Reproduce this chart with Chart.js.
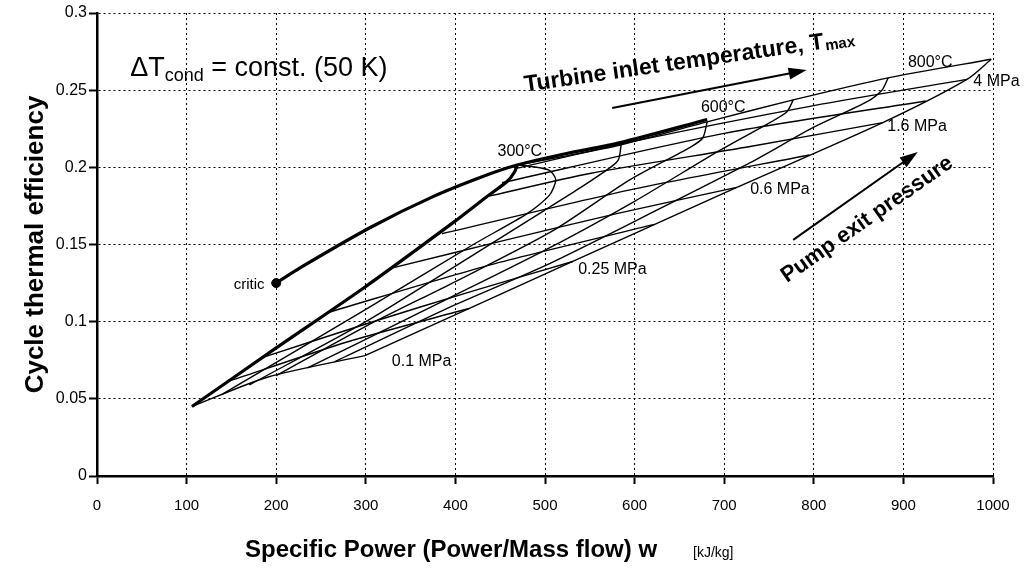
<!DOCTYPE html>
<html>
<head>
<meta charset="utf-8">
<script src="https://cdn.jsdelivr.net/npm/chart.js@4.4.0/dist/chart.umd.min.js"></script>
<style>
  html, body { margin: 0; padding: 0; background: #fff; }
</style>
</head>
<body>
<canvas id="chart" width="1025" height="569"></canvas>
<script>
// axis ticks
const xTicks = [0, 100, 200, 300, 400, 500, 600, 700, 800, 900, 1000];
const yTicks = [0, 0.05, 0.1, 0.15, 0.2, 0.25, 0.3];
const yTickLabels = ['0', '0.05', '0.1', '0.15', '0.2', '0.25', '0.3'];

// curves: [w kJ/kg, efficiency]
const critPoint = [200, 0.125];
const critLine = [[200,0.125],[227,0.135],[305,0.161],[375,0.181],[435,0.195],[469,0.2015],[520,0.2085],[584,0.216],[681,0.231]];
const topLine = [[469,0.2015],[520,0.207],[584,0.2145],[681,0.2295],[777,0.2437],[883,0.258],[998,0.270]];

// constant turbine inlet temperature lines
const t300 = [[106,0.045],[200,0.083],[298,0.122],[397,0.164],[435,0.181],[458,0.191],[466,0.197],[469,0.2015]];
const t400 = [[140,0.053],[300,0.108],[420,0.150],[480,0.170],[505,0.182],[512,0.192],[505,0.198],[485,0.2005],[469,0.2015]];
const t500 = [[170,0.059],[300,0.100],[400,0.136],[499,0.172],[540,0.187],[573,0.200],[582,0.205],[585,0.2145]];
const t600 = [[200,0.065],[300,0.097],[400,0.126],[509,0.159],[595,0.192],[662,0.213],[676,0.219],[681,0.2295]];
const t700 = [[235,0.070],[350,0.103],[499,0.146],[600,0.178],[695,0.211],[751,0.229],[770,0.236],[777,0.2437]];
const t800 = [[265,0.074],[400,0.111],[499,0.136],[600,0.165],[729,0.203],[800,0.226],[859,0.2424],[876,0.250],[883,0.258]];
const tMax = [[299,0.078],[531,0.139],[714,0.187],[877,0.229],[971,0.257],[998,0.270]];

// constant pump exit pressure lines
const p01 = [[106,0.045],[190,0.064],[299,0.078]];
const p016 = [[145,0.061],[280,0.087],[415,0.1085]];
const p025 = [[186,0.077],[300,0.0985],[420,0.120],[531,0.139]];
const p04 = [[258,0.106],[440,0.137],[622,0.163]];
const p06 = [[331,0.135],[450,0.152],[580,0.170],[714,0.187]];
const p10 = [[385,0.157],[600,0.186],[795,0.208]];
const p16 = [[435,0.181],[550,0.196],[729,0.2135],[877,0.229]];
const p25 = [[452,0.190],[700,0.222],[925,0.243]];
const p40 = [[466,0.199],[600,0.217],[800,0.240],[971,0.257]];

const thinCurves = [topLine, t400, t500, t600, t700, t800, tMax, p01, p016, p025, p04, p06, p10, p16, p25, p40];
const thickCurves = [critLine, t300];

const toPts = arr => arr.map(p => ({x: p[0], y: p[1]}));
const datasets = [];
thinCurves.forEach(c => datasets.push({data: toPts(c), showLine: true, borderColor: '#000', borderWidth: 1.4, pointRadius: 0, tension: 0.25}));
thickCurves.forEach(c => datasets.push({data: toPts(c), showLine: true, borderColor: '#000', borderWidth: 3.2, pointRadius: 0, tension: 0.25}));
datasets.push({data: toPts([critPoint]), pointRadius: 4.5, pointBackgroundColor: '#000', pointBorderColor: '#000'});

const FONT = 'Arial, "Liberation Sans", sans-serif';

// text and arrows on the plot
const notes = {
  id: 'notes',
  afterDatasetsDraw(chart) {
    const {ctx, scales: {x, y}} = chart;
    const X = v => x.getPixelForValue(v), Y = v => y.getPixelForValue(v);
    ctx.save();
    ctx.fillStyle = '#000';
    ctx.strokeStyle = '#000';
    ctx.textBaseline = 'middle';

    // small labels on the curves
    ctx.font = '16px ' + FONT;
    ctx.textAlign = 'left';
    const labels = [
      ['300°C', 447, 0.210], ['600°C', 674, 0.2385], ['800°C', 905, 0.2677],
      ['0.1 MPa', 329, 0.0739], ['0.25 MPa', 537, 0.1335], ['0.6 MPa', 729, 0.1854],
      ['1.6 MPa', 882, 0.2262], ['4 MPa', 978, 0.2553]
    ];
    labels.forEach(l => ctx.fillText(l[0], X(l[1]), Y(l[2])));
    ctx.font = '15px ' + FONT;
    ctx.textAlign = 'right';
    ctx.fillText('critic', X(187), Y(0.1238));

    // delta T label
    ctx.textAlign = 'left';
    ctx.textBaseline = 'alphabetic';
    let px = X(37), py = Y(0.2593);
    ctx.font = '27px ' + FONT;
    ctx.fillText('\u0394T', px, py);
    px += ctx.measureText('\u0394T').width;
    ctx.font = '18px ' + FONT;
    ctx.fillText('cond', px, py + 5);
    px += ctx.measureText('cond').width;
    ctx.font = '27px ' + FONT;
    ctx.fillText(' = const. (50 K)', px, py);

    // arrows
    const arrow = (a, b) => {
      const x1 = X(a[0]), y1 = Y(a[1]), x2 = X(b[0]), y2 = Y(b[1]);
      const ang = Math.atan2(y2 - y1, x2 - x1);
      ctx.lineWidth = 2;
      ctx.beginPath(); ctx.moveTo(x1, y1); ctx.lineTo(x2 - 14 * Math.cos(ang), y2 - 14 * Math.sin(ang)); ctx.stroke();
      ctx.beginPath();
      ctx.moveTo(x2, y2);
      ctx.lineTo(x2 - 18 * Math.cos(ang) + 6 * Math.sin(ang), y2 - 18 * Math.sin(ang) - 6 * Math.cos(ang));
      ctx.lineTo(x2 - 18 * Math.cos(ang) - 6 * Math.sin(ang), y2 - 18 * Math.sin(ang) + 6 * Math.cos(ang));
      ctx.closePath(); ctx.fill();
    };
    arrow([575, 0.2385], [792, 0.263]);
    arrow([777, 0.153], [916, 0.21]);

    // rotated bold captions
    ctx.font = 'bold 23px ' + FONT;
    ctx.save();
    ctx.translate(X(478), Y(0.249));
    ctx.rotate(-8.2 * Math.PI / 180);
    ctx.fillText('Turbine inlet temperature, T', 0, 0);
    const tw = ctx.measureText('Turbine inlet temperature, T').width;
    ctx.font = 'bold 15px ' + FONT;
    ctx.fillText('max', tw + 1, 2);
    ctx.restore();

    ctx.font = 'bold 22px ' + FONT;
    ctx.save();
    ctx.translate(X(770), Y(0.125));
    ctx.rotate(-35 * Math.PI / 180);
    ctx.fillText('Pump exit pressure', 0, 0);
    ctx.restore();

    // x axis title
    ctx.font = 'bold 24px ' + FONT;
    ctx.fillText('Specific Power (Power/Mass flow) w', 245, 557);
    ctx.font = '14px ' + FONT;
    ctx.fillText('[kJ/kg]', 693, 557);
    ctx.restore();
  }
};

new Chart(document.getElementById('chart'), {
  type: 'scatter',
  data: {datasets},
  plugins: [notes],
  options: {
    responsive: false,
    animation: false,
    devicePixelRatio: 1,
    layout: {padding: {top: 13, right: 32, left: 0, bottom: 0}},
    plugins: {legend: {display: false}, tooltip: {enabled: false}},
    scales: {
      x: {
        type: 'linear', min: 0, max: 1000,
        afterBuildTicks: s => { s.ticks = xTicks.map(v => ({value: v})); },
        afterFit: s => { s.height = 93; },
        ticks: {color: '#000', font: {size: 15, family: FONT}, padding: 13, maxRotation: 0,
          callback: v => String(v)},
        grid: {color: '#000', lineWidth: 1, tickLength: 8, tickColor: '#000', tickWidth: 2},
        border: {display: true, color: '#000', width: 2.5, dash: [2, 3]}
      },
      y: {
        type: 'linear', min: 0, max: 0.3,
        afterBuildTicks: s => { s.ticks = yTicks.map(v => ({value: v})); },
        afterFit: s => { s.width = 97; },
        ticks: {color: '#000', font: {size: 16, family: FONT}, padding: 2,
          callback: v => yTickLabels[yTicks.findIndex(t => Math.abs(t - v) < 1e-6)]},
        grid: {color: '#000', lineWidth: 1, tickLength: 8, tickColor: '#000', tickWidth: 2},
        border: {display: true, color: '#000', width: 2.5, dash: [2, 3]},
        title: {display: true, text: 'Cycle thermal efficiency', color: '#000',
          font: {size: 26, weight: 'bold', family: FONT}, padding: {top: 20, bottom: 0}}
      }
    }
  }
});
</script>
</body>
</html>
